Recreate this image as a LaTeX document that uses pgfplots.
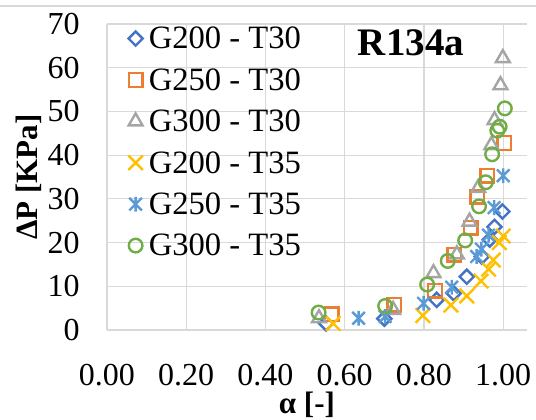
\documentclass[border=0pt]{standalone}
\usepackage{fontspec}
\setmainfont{Liberation Serif}
\usepackage{pgfplots}
\pgfplotsset{compat=1.18}
\definecolor{cBlue}{HTML}{4472C4}
\definecolor{cOrange}{HTML}{ED7D31}
\definecolor{cGray}{HTML}{A5A5A5}
\definecolor{cYellow}{HTML}{FFC000}
\definecolor{cLBlue}{HTML}{5B9BD5}
\definecolor{cGreen}{HTML}{70AD47}
\definecolor{cGrid}{HTML}{D9D9D9}
\pgfdeclareplotmark{xast}{%
 \pgfpathmoveto{\pgfqpoint{0pt}{\pgfplotmarksize}}%
 \pgfpathlineto{\pgfqpoint{0pt}{-\pgfplotmarksize}}%
 \pgfpathmoveto{\pgfqpoint{-.85\pgfplotmarksize}{-.85\pgfplotmarksize}}%
 \pgfpathlineto{\pgfqpoint{.85\pgfplotmarksize}{.85\pgfplotmarksize}}%
 \pgfpathmoveto{\pgfqpoint{-.85\pgfplotmarksize}{.85\pgfplotmarksize}}%
 \pgfpathlineto{\pgfqpoint{.85\pgfplotmarksize}{-.85\pgfplotmarksize}}%
 \pgfusepathqstroke}
\pgfplotsset{
  ser/.style={only marks, line width=1.2pt, mark options={solid, fill=none, line width=1.2pt},
    legend image code/.code={\draw[##1] plot coordinates {(0pt,2.5pt)};}},
}
\begin{document}
\begin{tikzpicture}
\useasboundingbox (-53.5pt,-44.5pt) rectangle (214.5pt,165pt);
\draw[cGrid, line width=0.6pt] (-53.5pt,162pt) -- (214.5pt,162pt);
\begin{axis}[
  at={(0pt,0pt)}, anchor=south west,
  scale only axis, width=210pt, height=153pt,
  xmin=0, xmax=1.06, ymin=0, ymax=70,
  xtick={0,0.2,0.4,0.6,0.8,1.0},
  ytick={0,10,20,30,40,50,60,70},
  grid=major,
  grid style={cGrid, line width=0.6pt},
  axis line style={draw=none},
  tick style={draw=none},
  major tick length=0pt,
  /pgf/number format/assume math mode=true,
  tick label style={font=\fontsize{16}{18}\selectfont},
  xticklabel style={anchor=center, inner sep=0pt, yshift=-22.5pt,
    /pgf/number format/.cd, fixed, fixed zerofill, precision=2},
  yticklabel style={anchor=east, inner sep=0pt, xshift=-13.5pt},
  xlabel={\textbf{α [-]}},
  ylabel={\textbf{ΔP [KPa]}},
  label style={font=\fontsize{15.5}{18}\selectfont},
  xlabel style={at={(axis description cs:0.476,-0.245)}, anchor=center},
  ylabel style={at={(axis description cs:-0.187,0.5)}, anchor=center, rotate=0},
  legend cell align=left,
  legend style={at={(axis description cs:0.05,1.005)}, anchor=north west,
    draw=none, fill=none, inner sep=0pt, row sep=0pt, column sep=3pt,
    font=\fontsize{16.3}{18}\selectfont,
    nodes={inner sep=0pt, text height=13pt, text depth=7.7pt}},
]
\addplot[ser, cBlue, mark=square, mark size=2.5pt, mark options={rotate=45}] coordinates {
(0.553,1.5) (0.700,2.6) (0.832,6.9) (0.875,8.4) (0.908,12.2) (0.946,16.8) (0.966,20.7) (0.978,23.6) (0.998,27.1)};
\addlegendentry{G200 - T30}
\addplot[ser, cOrange, mark=square, mark size=3.4pt] coordinates {
(0.567,3.6) (0.725,5.8) (0.828,9.0) (0.877,17.2) (0.918,23.4) (0.935,30.5) (0.960,35.3) (1.003,42.8)};
\addlegendentry{G250 - T30}
\addplot[ser, cGray, mark=triangle, mark size=4pt] coordinates {
(0.535,2.7) (0.722,4.6) (0.824,13.0) (0.883,17.3) (0.915,24.8) (0.937,32.5) (0.970,42.3) (0.978,48.0) (0.993,56.0) (0.999,62.2)};
\addlegendentry{G300 - T30}
\addplot[ser, cYellow, mark=x, mark size=5.1pt] coordinates {
(0.571,1.5) (0.797,3.3) (0.868,5.7) (0.908,7.8) (0.944,11.2) (0.963,13.9) (0.975,16.0) (0.990,20.0) (1.000,21.5)};
\addlegendentry{G200 - T35}
\addplot[ser, cLBlue, mark=xast, mark size=3.7pt] coordinates {
(0.635,2.7) (0.702,3.1) (0.799,6.1) (0.870,9.8) (0.933,16.8) (0.945,18.5) (0.963,21.7) (0.977,28.0) (1.000,35.3)};
\addlegendentry{G250 - T35}
\addplot[ser, cGreen, mark=o, mark size=3.4pt] coordinates {
(0.534,4.0) (0.702,5.5) (0.808,10.4) (0.860,15.8) (0.904,20.5) (0.939,28.3) (0.956,33.8) (0.972,40.2) (0.985,45.6) (0.991,46.5) (1.004,50.7)};
\addlegendentry{G300 - T35}
\node[font=\bfseries\fontsize{19.5}{22}\selectfont] at (rel axis cs:0.724,0.938) {R134a};
\end{axis}
\end{tikzpicture}
\end{document}
